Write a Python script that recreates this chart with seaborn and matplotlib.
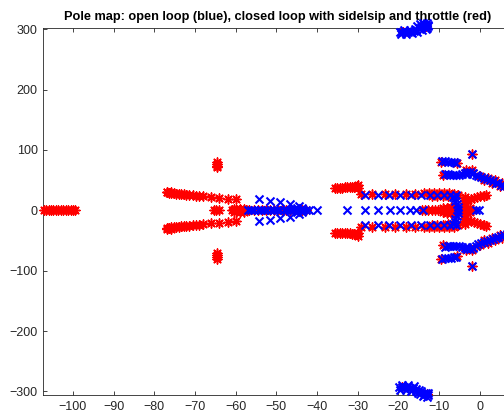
import matplotlib
matplotlib.use("Agg")
import matplotlib.pyplot as plt
import seaborn as sns
import pandas as pd

# ---------------- data (pole locations) ----------------
title_text = "Pole map: open loop (blue), closed loop with sidelsip and throttle (red)"
x_ticks = [-100, -90, -80, -70, -60, -50, -40, -30, -20, -10, 0]
y_ticks = [-300, -200, -100, 0, 100, 200, 300]

# closed loop (red)
red_far_axis = [(-107.2, 0), (-106.6, 0), (-106.0, 0), (-105.4, 0), (-104.8, 0), (-104.2, 0),
                (-103.6, 0), (-103.0, 0), (-102.4, 0), (-101.8, 0), (-101.2, 0), (-100.6, 0),
                (-100.0, 0), (-99.5, 0)]
red_pair_65 = [(-64.7, 71), (-64.7, 74), (-64.7, 77), (-64.7, 80),
               (-64.7, -71), (-64.7, -74), (-64.7, -77), (-64.7, -80)]
red_branch_upper = [(-77.0, 29.5), (-76.4, 29.0), (-75.8, 28.5), (-75.2, 28.0), (-74.6, 27.6),
                    (-74.0, 27.2), (-73.4, 26.8), (-72.8, 26.4), (-72.1, 26.0), (-71.4, 25.5),
                    (-70.6, 25.0), (-69.8, 24.4), (-69.0, 23.8), (-68.0, 23.0), (-66.0, 21.8),
                    (-64.0, 20.6), (-62.0, 19.4), (-60.0, 18.2), (-76.8, 31.0), (-75.8, 30.2)]
red_branch_lower = [(-77.0, -29.5), (-76.4, -29.0), (-75.8, -28.5), (-75.2, -28.0), (-74.6, -27.6),
                    (-74.0, -27.2), (-73.4, -26.8), (-72.8, -26.4), (-72.1, -26.0), (-71.4, -25.5),
                    (-70.6, -25.0), (-69.8, -24.4), (-69.0, -23.8), (-68.0, -23.0), (-66.0, -21.8),
                    (-64.0, -20.6), (-62.0, -19.4), (-60.0, -18.2), (-76.8, -31.0), (-75.8, -30.2)]
red_axis_65 = [(-65.4, 0), (-64.8, 0), (-64.2, 0)]
red_axis_mid = [(-61.0, 0), (-60.4, 0), (-59.8, 0), (-59.2, 0), (-58.6, 0), (-58.0, 0), (-57.4, 0),
                (-56.6, 0), (-55.6, 0), (-54.6, 0), (-53.6, 0), (-52.6, 0), (-51.6, 0), (-50.6, 0),
                (-49.6, 0), (-48.6, 0), (-47.6, 0), (-46.6, 0), (-45.6, 0), (-44.6, 0), (-43.6, 0),
                (-42.6, 0), (-60.5, 2), (-59.0, 2), (-58.0, 2), (-60.5, -2), (-59.0, -2), (-58.0, -2)]
red_blob_36 = [(-35.6, 37.0), (-35.0, 37.2), (-34.4, 37.4), (-33.8, 37.6), (-33.2, 37.8), (-32.6, 38.0),
               (-32.0, 38.4), (-31.4, 38.8), (-30.8, 39.2), (-30.2, 39.6), (-29.8, 37.0), (-29.8, 42.0),
               (-35.6, -37.0), (-35.0, -37.2), (-34.4, -37.4), (-33.8, -37.6), (-33.2, -37.8), (-32.6, -38.0),
               (-32.0, -38.4), (-31.4, -38.8), (-30.8, -39.2), (-30.2, -39.6), (-29.8, -37.0), (-29.8, -42.0)]
red_rows = [(-29.2, 27), (-26.6, 27), (-23.4, 27), (-20.8, 27), (-18.2, 27), (-15.8, 27.5), (-13.6, 28),
            (-12.4, 28), (-11.2, 28.5), (-10.0, 28.5), (-8.8, 28.5), (-7.6, 28), (-6.4, 27), (-5.4, 25),
            (-11.8, 24), (-10.4, 24), (-9.0, 24), (-7.8, 23.5), (-6.6, 23),
            (-29.2, -27), (-26.6, -27), (-23.4, -27), (-20.8, -27), (-18.2, -27), (-15.8, -27.5), (-13.6, -28),
            (-12.4, -28), (-11.2, -28.5), (-10.0, -28.5), (-8.8, -28.5), (-7.6, -28), (-6.4, -27), (-5.4, -25),
            (-11.8, -24), (-10.4, -24), (-9.0, -24), (-7.8, -23.5), (-6.6, -23)]
red_axis_right = [(-14.2, 0), (-13.4, 0), (-12.6, 0), (-11.8, 0), (-11.0, 0), (-10.2, 0), (-9.4, 0),
                  (-8.6, 0), (-7.8, 0), (-7.0, 0), (-6.2, 0), (-9.0, 3), (-8.0, 4), (-7.0, 5), (-6.0, 6),
                  (-9.0, -3), (-8.0, -4), (-7.0, -5), (-6.0, -6)]
red_h_shape = [(-3.6, 22), (-3.6, 17), (-3.6, 12), (-3.6, 7), (-3.6, 2), (-3.6, -2), (-3.6, -7),
               (-3.6, -12), (-3.6, -17), (-3.6, -22),
               (-3.0, 17), (-2.2, 18.5), (-1.4, 20), (-0.6, 21.5), (0.2, 23), (1.0, 24.5), (1.6, 26),
               (-3.0, -17), (-2.2, -18.5), (-1.4, -20), (-0.6, -21.5), (0.2, -23), (1.0, -24.5), (1.6, -26),
               (-3.2, 0), (-2.4, 0), (-1.6, 0), (-2.4, 3), (-2.4, -3)]
red_branch_edges = [(-8.9, 58), (-3.4, 66), (-2.0, 66), (0.2, 57.5), (2.0, 53.5), (3.8, 49.5), (5.6, 45.5),
                    (1.0, 50), (3.0, 45.5), (5.0, 41), (-9.5, 80), (-5.5, 78), (-2.0, 94),
                    (-8.9, -58), (-3.4, -66), (-2.0, -66), (0.2, -57.5), (2.0, -53.5), (3.8, -49.5), (5.6, -45.5),
                    (1.0, -50), (3.0, -45.5), (5.0, -41), (-9.5, -80), (-5.5, -76), (-2.0, -93)]
red_far_clusters = [(-18.8, 295), (-13.2, 306),
                    (-19.0, -293), (-13.0, -304)]

# open loop (blue)
blue_rows_left = [(-54.2, 18.5), (-51.6, 16.0), (-49.1, 13.5), (-46.7, 11.0), (-44.4, 7.5),
                  (-54.2, -18.0), (-51.6, -15.5), (-49.1, -13.0), (-46.7, -10.5), (-44.4, -6.5)]
blue_axis_left = [(-57.0, 0), (-56.2, 0), (-55.4, 0), (-54.6, 0), (-53.8, 0), (-53.0, 0), (-52.2, 0),
                  (-51.4, 0), (-50.6, 0), (-49.8, 0), (-49.0, 0), (-48.2, 0), (-47.4, 0), (-46.6, 0),
                  (-45.8, 0), (-45.0, 0), (-44.2, 0), (-43.4, 0), (-42.6, 0), (-41.9, 0), (-40.0, 0),
                  (-44.8, 3), (-43.6, 3.5), (-44.8, -3), (-43.6, -3.5)]
blue_rows_right = [(-28.3, 25), (-25.0, 25), (-22.3, 25), (-19.7, 25), (-17.0, 25), (-14.5, 25),
                   (-12.3, 25), (-10.5, 25), (-8.8, 25), (-7.4, 25), (-5.9, 25),
                   (-28.3, -24), (-25.0, -24), (-22.3, -24), (-19.7, -24), (-17.0, -24), (-14.5, -24),
                   (-12.3, -24), (-10.5, -24), (-8.8, -24), (-7.4, -24), (-5.9, -24)]
blue_axis_right = [(-32.7, 0), (-28.3, 0), (-25.0, 0), (-22.1, 0), (-19.5, 0), (-17.2, 0),
                   (-15.6, 0), (-13.9, 0), (-0.8, 0), (-0.2, 0)]
blue_column = [(-6.0, 20), (-6.0, 15), (-5.6, 10), (-5.4, 5), (-5.4, 0), (-5.4, -5), (-5.6, -10),
               (-6.0, -15), (-6.0, -20), (-6.6, 22), (-6.6, -22)]
blue_branches = [(-8.6, 60), (-7.9, 59.5), (-7.2, 59), (-6.5, 58.5), (-5.8, 58.5), (-5.1, 59), (-4.4, 60),
                 (-3.7, 62.5), (-3.0, 64), (-2.3, 64), (-1.6, 62), (-1.0, 59), (-0.3, 56.5), (0.4, 55),
                 (1.1, 53), (1.8, 51.5), (2.5, 49.5), (3.2, 48), (3.9, 46), (4.6, 44.5), (5.3, 42.5),
                 (6.0, 41), (6.7, 39.5), (-3.0, 60), (-2.0, 60),
                 (-8.6, -60), (-7.9, -59.5), (-7.2, -59), (-6.5, -58.5), (-5.8, -58.5), (-5.1, -59), (-4.4, -60),
                 (-3.7, -62.5), (-3.0, -64), (-2.3, -64), (-1.6, -62), (-1.0, -59), (-0.3, -56.5), (0.4, -55),
                 (1.1, -53), (1.8, -51.5), (2.5, -49.5), (3.2, -48), (3.9, -46), (4.6, -44.5), (5.3, -42.5),
                 (6.0, -41), (6.7, -39.5), (-3.0, -60), (-2.0, -60)]
blue_blobs = [(-9.2, 81.5), (-8.5, 81), (-7.8, 80.5), (-7.1, 80), (-6.4, 79.5), (-5.8, 79),
              (-9.2, -80), (-8.5, -79.5), (-7.8, -79), (-7.1, -78.5), (-6.4, -78), (-5.8, -77.5),
              (-2.0, 94), (-2.0, -93)]
blue_top_cluster = [(-19.7, 295), (-19.0, 295.5), (-18.3, 295), (-17.6, 296), (-16.9, 296), (-16.2, 297),
                    (-15.6, 299), (-15.0, 302), (-14.4, 304), (-13.8, 305), (-13.2, 306), (-12.7, 305),
                    (-14.6, 308), (-13.6, 308.5), (-12.8, 307.5), (-15.4, 305), (-13.0, 302),
                    (-19.3, 292), (-18.0, 292.5), (-16.7, 293.5), (-15.5, 295.5), (-14.3, 299),
                    (-13.3, 300), (-18.6, 298), (-17.2, 299), (-16.0, 301), (-14.0, 309.5), (-12.9, 309.5)]
blue_bottom_cluster = [(-19.9, -292), (-19.2, -293), (-18.5, -292.5), (-17.8, -293.5), (-17.1, -294),
                       (-16.4, -295), (-15.7, -296), (-15.0, -298), (-14.4, -300), (-13.8, -302),
                       (-13.2, -303), (-12.6, -303), (-19.5, -297), (-18.2, -298), (-16.8, -299),
                       (-14.6, -304), (-13.6, -306), (-12.6, -306.5), (-19.0, -289), (-17.6, -289.5),
                       (-16.2, -291), (-15.2, -302), (-14.0, -308), (-13.0, -308.5), (-15.6, -299.5)]

red_groups = [red_far_axis, red_pair_65, red_branch_upper, red_branch_lower, red_axis_65, red_axis_mid,
              red_blob_36, red_rows, red_axis_right, red_h_shape, red_branch_edges, red_far_clusters]
blue_groups = [blue_rows_left, blue_axis_left, blue_rows_right, blue_axis_right, blue_column,
               blue_branches, blue_blobs, blue_top_cluster, blue_bottom_cluster]

red_df = pd.DataFrame([p for g in red_groups for p in g], columns=["re", "im"])
blue_df = pd.DataFrame([p for g in blue_groups for p in g], columns=["re", "im"])

# ---------------- style ----------------
sns.set_style("ticks")
plt.rcParams["font.family"] = ["Liberation Sans", "DejaVu Sans"]
axis_color = "#262626"

fig = plt.figure(figsize=(5.04, 4.16), dpi=100)
W, H = 504, 416
ax_left, ax_right, ax_top, ax_bottom = 43.3, 511.0, 28.0, 395.0
ax = fig.add_axes([ax_left / W, (H - ax_bottom) / H, (ax_right - ax_left) / W, (ax_bottom - ax_top) / H])

star = (8, 2, 0)
sns.scatterplot(data=red_df, x="re", y="im", marker=star, s=42, color="#ff0000",
                linewidth=1.1, ax=ax, clip_on=False, zorder=3, legend=False)
sns.scatterplot(data=blue_df, x="re", y="im", marker="x", s=33, color="#0000ff",
                linewidth=1.5, ax=ax, clip_on=False, zorder=4, legend=False)

ax.set_xlim(-107.3, 7.7)
ax.set_ylim(-306, 302)
ax.set_xticks(x_ticks)
ax.set_yticks(y_ticks)
ax.set_xlabel("")
ax.set_ylabel("")
ax.tick_params(direction="in", length=2.6, width=0.6, color=axis_color, labelcolor=axis_color,
               labelsize=9, top=True, right=True, pad=4)
for sp in ax.spines.values():
    sp.set_color(axis_color)
    sp.set_linewidth(0.6)
ax.set_title(title_text, fontsize=9.2, fontweight="bold", color="#000000", pad=6)

fig.savefig("out.png", dpi=100)
